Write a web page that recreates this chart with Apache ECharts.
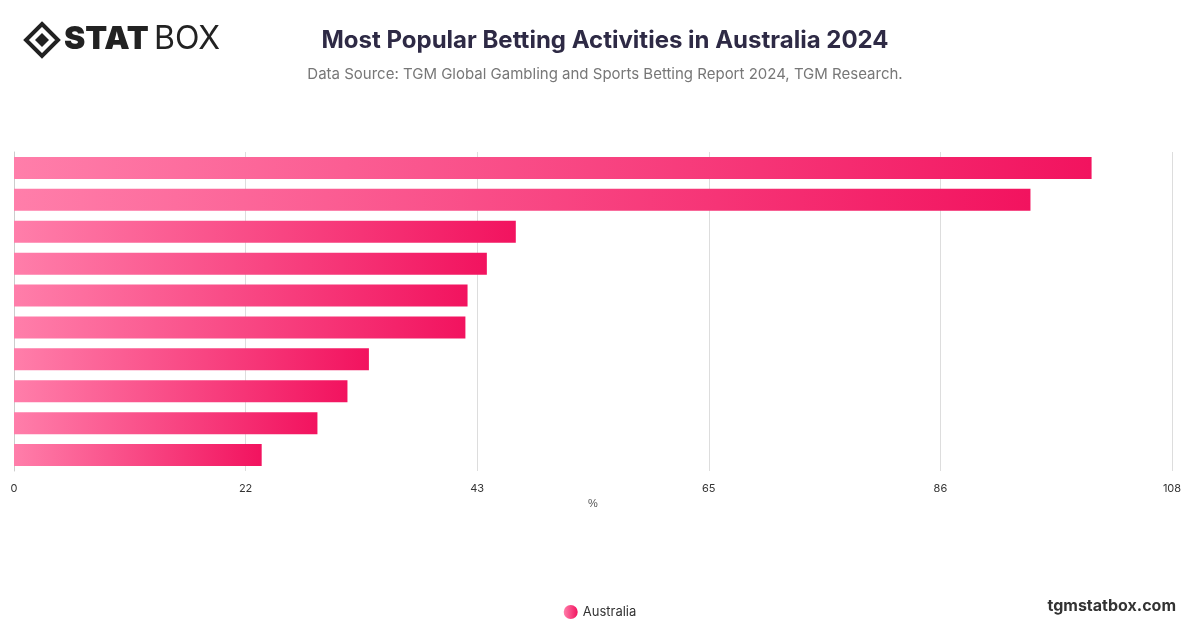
<!DOCTYPE html>
<html><head><meta charset="utf-8">
<script src="https://cdn.jsdelivr.net/npm/echarts@6/dist/echarts.min.js"></script>
<style>html,body{margin:0;padding:0;background:#fff}#c{width:1200px;height:628px}</style>
</head><body><div id="c"></div>
<script>
const categories = ['A1','A2','A3','A4','A5','A6','A7','A8','A9','A10'];
const values = [100.5, 94.8, 46.8, 44.1, 42.3, 42.1, 33.1, 31.1, 28.3, 23.1];
const seriesName = 'Australia';
const chart = echarts.init(document.getElementById('c'));
chart.setOption({
  backgroundColor:'#fff',
  title:[{text:'Most Popular Betting Activities in Australia 2024',left:600,top:24,textAlign:'center',
    textStyle:{fontFamily:'Inter',fontSize:24,fontWeight:'bold',color:'#2e2a45'}},
   {text:'Data Source: TGM Global Gambling and Sports Betting Report 2024, TGM Research.',left:600,top:62,textAlign:'center',
    textStyle:{fontFamily:'Inter',fontSize:15,fontWeight:'normal',color:'#777'}}],
  graphic:[
    {type:'polygon',shape:{points:[[42,24],[58,40],[42,56],[26,40]]},style:{fill:'none',stroke:'#222',lineWidth:4}},
    {type:'polygon',shape:{points:[[42,33],[49,40],[42,47],[35,40]]},style:{fill:'#222'}},
    {type:'text',left:64,top:23,style:{text:'STAT',font:'900 32px Inter',fill:'#222'}},
    {type:'text',left:154,top:23,style:{text:'BOX',font:'32px Inter',fill:'#222'}},
    {type:'text',right:24,top:598,style:{text:'tgmstatbox.com',font:'bold 16px Inter',fill:'#333'}}
  ],
  legend:{bottom:4,left:'center',icon:'circle',itemWidth:14,itemHeight:14,
    textStyle:{fontFamily:'Inter',fontSize:13,color:'#333'}},
  grid:{left:14,right:28,top:152,bottom:157},
  xAxis:{type:'value',min:0,max:108,interval:21.6,name:'%',nameLocation:'middle',nameGap:24,
    nameTextStyle:{fontSize:11,color:'#555'},
    axisLabel:{formatter:v=>Math.round(v),color:'#333',fontSize:11,fontFamily:'Inter',margin:12},
    splitLine:{lineStyle:{color:'#ddd'}}},
  yAxis:{type:'category',data:categories,inverse:true,axisLabel:{show:false},axisTick:{show:false},
    axisLine:{lineStyle:{color:'#ccc'}}},
  series:[{name:seriesName,type:'bar',data:values,barWidth:22,
    itemStyle:{color:new echarts.graphic.LinearGradient(0,0,1,0,[{offset:0,color:'#ff7eaa'},{offset:1,color:'#f2135f'}])}}]
});
</script></body></html>
